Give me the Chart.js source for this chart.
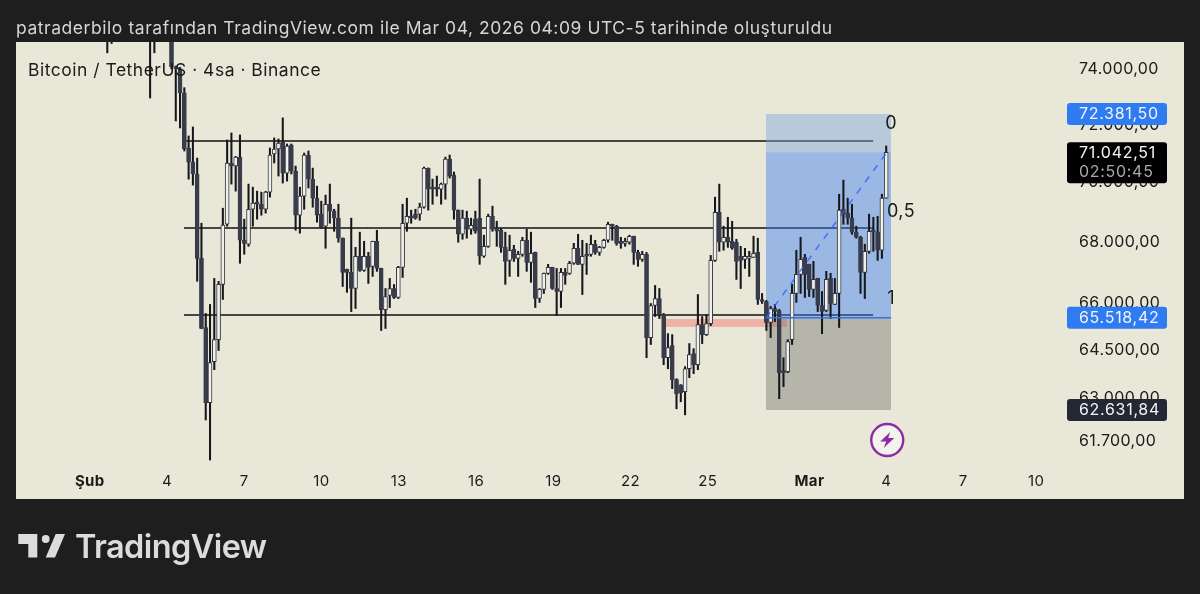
<!DOCTYPE html>
<html>
<head>
<meta charset="utf-8">
<style>
  html, body { margin: 0; padding: 0; background: #1e1e1e; overflow: hidden; }
  #wrap { position: relative; width: 1200px; height: 594px; }
  #chart { position: absolute; left: 0; top: 0; }
  .txt { position: absolute; font-family: Inter, sans-serif; white-space: nowrap; }
  #header { left: 16px; top: 18px; font-size: 17.5px; line-height: 20px; letter-spacing: 0.55px; color: #d6d6d6; }
  #symbol { left: 28px; top: 60px; font-size: 17.5px; line-height: 20px; letter-spacing: 0.5px; color: #1b1b1b; }
  #logoText { left: 75px; top: 526px; font-size: 32.5px; line-height: 42px; font-weight: 600; color: #dcdcdc; letter-spacing: -0.6px; }
  #logo { position: absolute; left: 0; top: 520px; }
</style>
</head>
<body>
<div id="wrap">
  <canvas id="chart" width="1200" height="594"></canvas>
  <div class="txt" id="header">patraderbilo tarafından TradingView.com ile Mar 04, 2026 04:09 UTC-5 tarihinde oluşturuldu</div>
  <div class="txt" id="symbol">Bitcoin / TetherUS · 4sa · Binance</div>
  <svg id="logo" width="70" height="50">
    <path fill="#dcdcdc" d="M18.3 14H37.3V37.5H28.3V24H18.3Z"/>
    <circle fill="#dcdcdc" cx="45.7" cy="19" r="3.9"/>
    <path fill="#dcdcdc" d="M55.7 14H65L55 37.5H45.7Z"/>
  </svg>
  <div class="txt" id="logoText">TradingView</div>
</div>
<script src="https://cdn.jsdelivr.net/npm/chart.js@4"></script>
<script>
// 4h candles, oldest first
const opens = [
  75400,75700,75600,76100,76500,76300,76000,75500,75900,76400,75800,75300,75600,75700,75500,75400,
  74070,74000,73135,71190,70700,70290,67450,65210,62855,64130,64825,66600,68585,70670,70565,70875,68050,67920,69090,
  69330,69260,69090,69670,70980,71155,71400,70320,71295,70392,68890,69535,70945,70115,69465,68925,68520,69260,69025,
  68790,68120,67090,66990,66465,67520,67055,67520,67190,68017,67120,65785,66240,66465,66175,67155,68620,68855,68925,
  68925,69160,70495,69840,69840,69775,69945,70805,70255,69060,68250,68790,68420,68755,68790,67520,67850,68855,68450,
  68385,67815,67385,67750,67450,67585,68050,67320,67650,66140,66435,66960,67155,66465,66370,66990,66960,67290,67785,
  67255,67585,67585,67920,67650,67815,68050,68585,68520,68017,67950,67985,68185,67650,67420,67585,64890,65915,66140,
  65625,64255,64635,63570,63410,63195,63910,64385,64035,65305,64985,65335,67385,68990,67985,68150,68017,67985,67520,
  67420,67450,67485,67650,66110,66045,65370,65820,65755,63850,63818,64825,66305,66925,67485,67255,66435,66795,65915,
  65755,66795,65950,66305,69090,68960,68790,68320,68150,66990,67685,68385,68320,67720,69465
];
const highs = [
  76000,76200,76500,76800,77200,76900,76400,76200,76700,77000,76300,75900,76000,76200,75900,75500,
  74100,74050,73320,71610,71925,70840,68620,65660,65950,66795,66696,69125,71470,71715,70900,71645,68755,69945,69840,
  69705,69670,69700,71190,71540,71505,72245,71330,71330,70565,69840,71015,71085,70495,69875,69364,69570,69945,69090,
  69260,68130,67100,68790,67815,68320,68017,67650,68020,68385,67130,66465,66795,66595,67190,69260,69465,69060,69090,
  69295,70530,70500,70115,70220,69980,70875,70945,70360,69070,69060,69025,68790,69025,70115,68220,68925,69195,68687,
  68450,68320,68220,67885,67685,68150,68420,68320,67660,66465,66970,67255,67160,67120,67120,67120,67353,67950,68250,
  68050,67950,68220,68050,67850,68085,68655,68590,68550,68150,68120,68220,68190,67720,67685,67650,65980,66565,66465,
  65660,65015,64985,63600,63415,63975,64700,64540,66270,65560,65625,67550,69500,69945,68520,68820,68687,68085,67850,
  67785,67685,68185,68120,66305,66080,65885,65950,65790,64255,64825,66600,67720,68150,67585,67260,67353,66800,66370,
  67024,66960,66795,69600,70080,69465,69260,68520,68185,67920,68925,68820,68855,69600,71260
];
const lows = [
  74580,74920,75200,75700,76000,75800,75300,75100,75500,75700,72950,74580,75100,75300,75200,74000,
  72138,71890,71085,70115,69910,66700,65170,62330,61120,63880,64480,66110,68520,69945,69705,67290,67585,67850,68520,
  68755,68890,68960,69500,70670,70220,69980,70047,70290,68385,68285,69090,69810,69160,68655,68450,67785,68620,68350,
  67985,66530,66340,65720,65820,67025,67025,66630,66860,67024,65115,65180,65850,66140,66140,66825,68350,68620,68755,
  68720,69125,69060,69260,69535,69260,69430,70150,68755,67985,68085,68120,68250,68285,67255,67485,67815,68350,67850,
  67650,66600,66860,67350,66860,67520,67024,66665,65850,66015,66305,66925,66435,65595,65850,66600,66925,67255,67250,
  66270,66925,67520,67585,67550,67785,67985,68050,67885,67785,67850,67920,67255,67190,67353,64255,64670,65560,65495,
  64035,63910,63290,62670,62885,62485,63630,63755,63880,64700,64955,65270,67350,67685,67720,67815,67750,66760,66465,
  67120,66860,67480,65950,65980,65115,64890,65400,62980,63350,63785,64670,66015,66305,66175,66205,66175,65722,65015,
  65722,65495,65945,65210,68585,68585,68250,68120,66305,66140,67620,67685,67385,67450,69465
];
const closes = [
  75300,75400,76100,76500,76300,76000,75500,75900,76400,76000,75200,75600,75700,75500,75400,74070,
  74000,73135,71155,70700,70290,67450,65180,62855,64100,64825,66600,68555,70670,70565,70875,68050,67950,69090,69295,
  69260,69090,69670,70945,71155,71365,70320,71260,70392,68890,69535,70945,70115,69465,68890,68485,69260,69025,68790,
  68120,66990,66990,66465,67520,67055,67520,67155,68017,67120,65785,66205,66465,66175,67155,68620,68855,68790,68790,
  69160,70495,69775,69775,69775,69945,70805,70220,69060,68250,68790,68420,68550,68350,67520,67850,68855,68420,68350,
  67815,67353,67720,67450,67585,68050,67320,67620,66140,66435,66960,67155,66465,66370,66990,66890,67290,67785,67255,
  67520,67520,67920,67650,67815,68050,68585,68520,67950,67950,68017,68185,67650,67420,67585,64890,65915,66140,65625,
  64255,64575,63570,63130,63165,63910,64350,64035,65305,64985,65335,67385,68990,67985,68150,67985,67785,67353,67385,
  67520,67520,67620,66110,66045,65370,65820,65722,63785,63785,64763,66305,66925,67420,66925,66435,66760,65915,65722,
  66760,65980,66305,69060,68925,68790,68320,68150,66990,67685,68350,68320,67720,69465,71042.51
];

// x axis: days counted from Feb 1, placed where the picture has them
const dayTicks = [0, 3, 6, 9, 12, 15, 18, 21, 24, 27.95, 30.93, 33.92, 36.75];
const dayLabels = ['Şub', '4', '7', '10', '13', '16', '19', '22', '25', 'Mar', '4', '7', '10'];
const boldLabels = ['Şub', 'Mar'];
const priceTicks = [74000, 72000, 70000, 68000, 66000, 64500, 63000, 61700];

// drawings
const levelValues = [71434, 68460, 65610];
const levelStarts = [3.74, 3.66, 3.66];
const levelEnd = 30.42;
const targetPrice = 72381.5, lastPrice = 71042.51, entryPrice = 65518.42, stopPrice = 62631.84;
const boxStart = 26.26, boxEnd = 31.12, diagonalEnd = 30.96;
const zoneTop = 65482, zoneBottom = 65227, zoneStart = 22.22, zoneEnd = 27.08;
const lastCandleDay = 30.93, candleStep = 0.1662;
const markerDay = 30.97, markerPrice = 61720;
const countdown = '02:50:45';

const fmt = v => v.toLocaleString('de-DE', { minimumFractionDigits: 2, maximumFractionDigits: 2 });
const FONT = 'Inter, sans-serif';
const SPACING = '0.37px';
const TAG_SPACING = '0.7px';

const days = opens.map((_, i) => lastCandleDay - (opens.length - 1 - i) * candleStep);
const wicks = days.map((x, i) => ({ x: x, y: [lows[i], highs[i]] }));
const upBodies = [], downBodies = [];
days.forEach((x, i) => {
  const body = { x: x, y: [Math.min(opens[i], closes[i]), Math.max(opens[i], closes[i])] };
  (closes[i] >= opens[i] ? upBodies : downBodies).push(body);
});

function lineSet(points, color, width, order, extra) {
  return Object.assign({
    type: 'line', data: points, borderColor: color, borderWidth: width,
    pointRadius: 0, order: order, tension: 0
  }, extra || {});
}
function boxSet(x0, x1, top, bottom, color, order) {
  return lineSet([{ x: x0, y: top }, { x: x1, y: top }], 'rgba(0,0,0,0)', 0, order,
    { fill: { value: bottom }, backgroundColor: color });
}

const datasets = [
  boxSet(zoneStart, zoneEnd, zoneTop, zoneBottom, '#eeb3a6', 9),
  lineSet([{ x: levelStarts[0], y: levelValues[0] }, { x: levelEnd, y: levelValues[0] }], '#111', 1.7, 8),
  lineSet([{ x: levelStarts[1], y: levelValues[1] }, { x: levelEnd, y: levelValues[1] }], '#111', 1.7, 8),
  lineSet([{ x: levelStarts[2], y: levelValues[2] }, { x: levelEnd, y: levelValues[2] }], '#111', 1.7, 8),
  boxSet(boxStart, boxEnd, targetPrice, lastPrice, 'rgba(127,164,227,0.45)', 7),
  boxSet(boxStart, boxEnd, lastPrice, entryPrice, 'rgba(60,127,245,0.45)', 7),
  boxSet(boxStart, boxEnd, entryPrice, stopPrice, 'rgba(118,120,114,0.45)', 7),
  { data: wicks, backgroundColor: '#16171c', barThickness: 1.4, order: 5 },
  { data: upBodies, backgroundColor: '#f1f1ec', borderColor: '#33363f', borderWidth: 1, borderSkipped: false, barThickness: 4, minBarLength: 2, order: 4 },
  { data: downBodies, backgroundColor: '#383b4a', borderColor: '#383b4a', borderWidth: 0.5, borderSkipped: false, barThickness: 4, minBarLength: 2, order: 4 },
  lineSet([{ x: boxStart, y: entryPrice }, { x: boxEnd, y: entryPrice }], '#2f6fe8', 1.5, 3),
  lineSet([{ x: boxStart, y: entryPrice }, { x: diagonalEnd, y: lastPrice }], 'rgba(41,98,255,0.8)', 1.5, 3, { borderDash: [7, 7] })
];

function drawTag(ctx, scale, value, bg) {
  const y = scale.getPixelForValue(value);
  ctx.fillStyle = bg;
  ctx.beginPath();
  ctx.roundRect(1067, y - 11, 100, 22, 3);
  ctx.fill();
  ctx.fillStyle = '#f2f4f8';
  ctx.textAlign = 'left';
  ctx.textBaseline = 'middle';
  ctx.font = '16px ' + FONT;
  ctx.fillText(fmt(value), 1079, y + 0.5);
}

const panelPlugin = {
  id: 'panel',
  beforeDraw(chart) {
    const ctx = chart.ctx;
    ctx.save();
    ctx.fillStyle = '#1e1e1e';
    ctx.fillRect(0, 0, 1200, 594);
    ctx.fillStyle = '#e9e7d8';
    ctx.fillRect(16, 42, 1168, 457);
    ctx.restore();
    ctx.letterSpacing = SPACING;
  },
  afterDraw(chart) {
    const ctx = chart.ctx, xs = chart.scales.x, ys = chart.scales.y;
    ctx.save();
    // fib labels on the long position
    ctx.fillStyle = '#1b1b1b';
    ctx.font = '18px ' + FONT;
    ctx.textBaseline = 'middle';
    ctx.textAlign = 'center';
    ctx.fillText('0', xs.getPixelForValue(boxEnd), ys.getPixelForValue(targetPrice) + 10);
    ctx.textAlign = 'left';
    ctx.fillText('0,5', xs.getPixelForValue(boxEnd) - 4, ys.getPixelForValue(68460) - 16);
    ctx.textAlign = 'center';
    ctx.fillText('1', xs.getPixelForValue(boxEnd), ys.getPixelForValue(entryPrice) - 19);

    // price tags
    ctx.letterSpacing = TAG_SPACING;
    drawTag(ctx, ys, targetPrice, '#2f7bf2');
    drawTag(ctx, ys, entryPrice, '#2f7bf2');
    drawTag(ctx, ys, stopPrice, '#242834');
    const ly = ys.getPixelForValue(lastPrice);
    ctx.fillStyle = '#000';
    ctx.beginPath();
    ctx.roundRect(1067, ly - 10, 100, 41, 3);
    ctx.fill();
    ctx.textAlign = 'left';
    ctx.font = '16px ' + FONT;
    ctx.fillStyle = '#f4f4f4';
    ctx.fillText(fmt(lastPrice), 1079, ly + 0.5);
    ctx.fillStyle = '#a8a8a8';
    ctx.fillText(countdown, 1079, ly + 20);

    // lightning marker
    const mx = xs.getPixelForValue(markerDay), my = ys.getPixelForValue(markerPrice);
    ctx.beginPath();
    ctx.arc(mx, my, 16, 0, Math.PI * 2);
    ctx.fillStyle = '#f4f2ec';
    ctx.fill();
    ctx.lineWidth = 2.4;
    ctx.strokeStyle = '#8e2aa8';
    ctx.stroke();
    ctx.fillStyle = '#8e2aa8';
    ctx.beginPath();
    ctx.moveTo(mx + 3, my - 8);
    ctx.lineTo(mx - 7, my + 1.5);
    ctx.lineTo(mx - 1, my + 1.5);
    ctx.lineTo(mx - 3.5, my + 8);
    ctx.lineTo(mx + 7, my - 2);
    ctx.lineTo(mx + 1, my - 2);
    ctx.closePath();
    ctx.fill();
    ctx.restore();
  }
};

new Chart(document.getElementById('chart'), {
  type: 'bar',
  data: { datasets: datasets },
  plugins: [panelPlugin],
  options: {
    responsive: false,
    animation: false,
    events: [],
    layout: { padding: { left: 16, right: 16, top: 42, bottom: 95 } },
    plugins: { legend: { display: false }, tooltip: { enabled: false } },
    datasets: { bar: { grouped: false } },
    scales: {
      x: {
        type: 'linear', offset: false, bounds: 'data', min: -2.864, max: 37.99,
        grid: { display: false, drawTicks: false }, border: { display: false },
        afterBuildTicks: s => { s.ticks = dayTicks.map(v => ({ value: v })); },
        afterFit: s => { s.height = 36; },
        ticks: {
          autoSkip: false, maxRotation: 0, padding: 9, color: '#1b1b1b',
          font: c => ({ family: FONT, size: 15, weight: c.tick && boldLabels.includes(dayLabels[dayTicks.indexOf(c.tick.value)]) ? '700' : '400' }),
          callback: v => dayLabels[dayTicks.indexOf(v)]
        }
      },
      y: {
        type: 'logarithmic', position: 'right', min: 61032, max: 74975,
        grid: { display: false, drawTicks: false }, border: { display: false },
        afterBuildTicks: s => { s.ticks = priceTicks.map(v => ({ value: v })); },
        afterFit: s => { s.width = 116; },
        ticks: {
          autoSkip: false, padding: 11, color: '#1b1b1b',
          font: { family: FONT, size: 16 },
          callback: v => fmt(v)
        }
      }
    }
  }
});
</script>
</body>
</html>
